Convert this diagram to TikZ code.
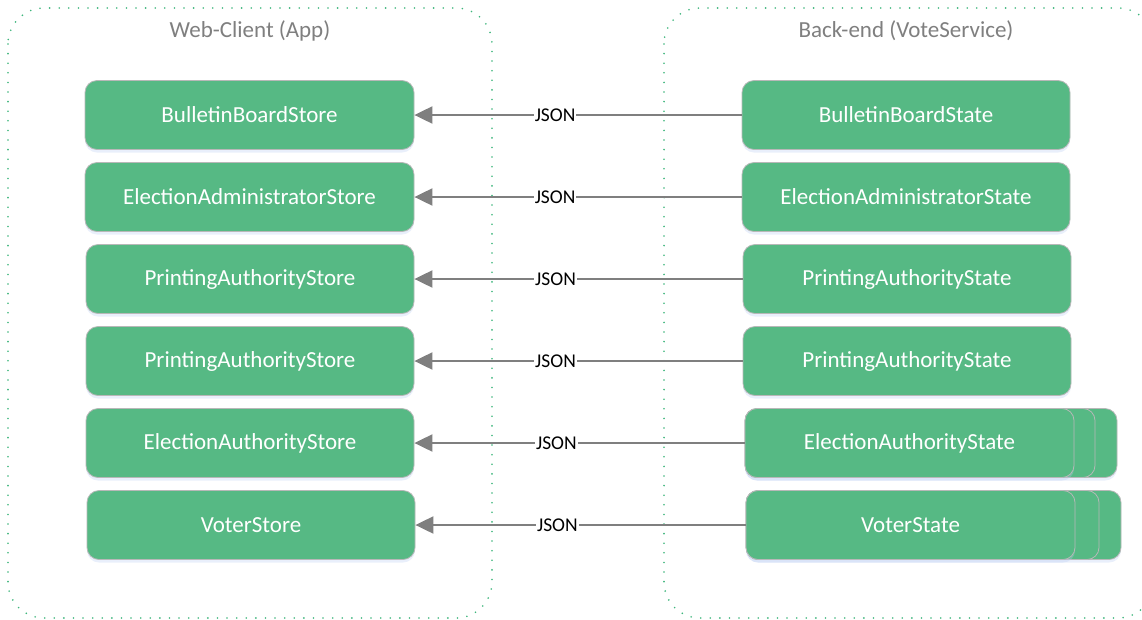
\documentclass[tikz,border=0pt]{standalone}
\usepackage{fontspec}
\setmainfont{Carlito}
\usetikzlibrary{shadows,arrows.meta}
\definecolor{boxgreen}{HTML}{56B984}
\definecolor{dotgreen}{HTML}{3DB67C}
\definecolor{linegray}{HTML}{7F7F7F}
\definecolor{titlegray}{HTML}{7F7F7F}
\definecolor{glow}{HTML}{B8CCF4}
\tikzset{
  glowshadow/.style={drop shadow={shadow xshift=0pt, shadow yshift=-3pt, fill=glow, opacity=0.3}},
  container/.style={draw=dotgreen, line width=1.8pt, dash pattern=on 0pt off 9.6pt, line cap=round, rounded corners=36pt},
  box/.style={draw=black!28, line width=0.8pt, fill=boxgreen, rounded corners=12pt, minimum height=69pt, inner sep=0pt, text=white, font=\fontsize{23}{26}\selectfont, glowshadow},
  stackbox/.style={draw=black!28, line width=0.8pt, fill=boxgreen, rounded corners=12pt},
  title/.style={text=titlegray, font=\fontsize{23}{26}\selectfont},
  conn/.style={draw=linegray, line width=2pt, -{Triangle[length=18pt,width=17pt]}},
  json/.style={fill=white, inner sep=1pt, font=\fontsize{19.5}{22}\selectfont, text=black, pos=0.57},
}
\begin{document}
\begin{tikzpicture}[x=1pt,y=-1pt]
\useasboundingbox (0,0) rectangle (1142,619);
\fill[white] (0,0) rectangle (1142,619);
% containers
\draw[container] (8,8) rectangle (492,618);
\draw[container] (664,8) rectangle (1154,618);
\node[title] (tl) at (250,31) {Web-Client (App)};
\node[title] (tr) at (906,31) {Back-end (VoteService)};
% left stores
\node[box, minimum width=329pt] (l1) at (249.5,115) {BulletinBoardStore};
\node[box, minimum width=329pt] (l2) at (249.5,197) {ElectionAdministratorStore};
\node[box, minimum width=328pt] (l3) at (250,279) {PrintingAuthorityStore};
\node[box, minimum width=328pt] (l4) at (250,361) {PrintingAuthorityStore};
\node[box, minimum width=328pt] (l5) at (250,443) {ElectionAuthorityStore};
\node[box, minimum width=328pt] (l6) at (251,525) {VoterStore};
% stacked back-layers
\path[stackbox, glowshadow] (745,408.5) rectangle (1117,477.5);
\path[stackbox] (745,408.5) rectangle (1095,477.5);
\path[stackbox, glowshadow] (746,490.5) rectangle (1121,559.5);
\path[stackbox] (746,490.5) rectangle (1099,559.5);
% right states
\node[box, minimum width=328pt] (r1) at (906,115) {BulletinBoardState};
\node[box, minimum width=328pt] (r2) at (906,197) {ElectionAdministratorState};
\node[box, minimum width=328pt] (r3) at (907,279) {PrintingAuthorityState};
\node[box, minimum width=328pt] (r4) at (907,361) {PrintingAuthorityState};
\node[box, minimum width=329pt] (r5) at (909.5,443) {ElectionAuthorityState};
\node[box, minimum width=329pt] (r6) at (910.5,525) {VoterState};
% connectors
\draw[conn] (r1.west) -- node[json]{JSON} (l1.east);
\draw[conn] (r2.west) -- node[json]{JSON} (l2.east);
\draw[conn] (r3.west) -- node[json]{JSON} (l3.east);
\draw[conn] (r4.west) -- node[json]{JSON} (l4.east);
\draw[conn] (r5.west) -- node[json]{JSON} (l5.east);
\draw[conn] (r6.west) -- node[json]{JSON} (l6.east);
\end{tikzpicture}
\end{document}
